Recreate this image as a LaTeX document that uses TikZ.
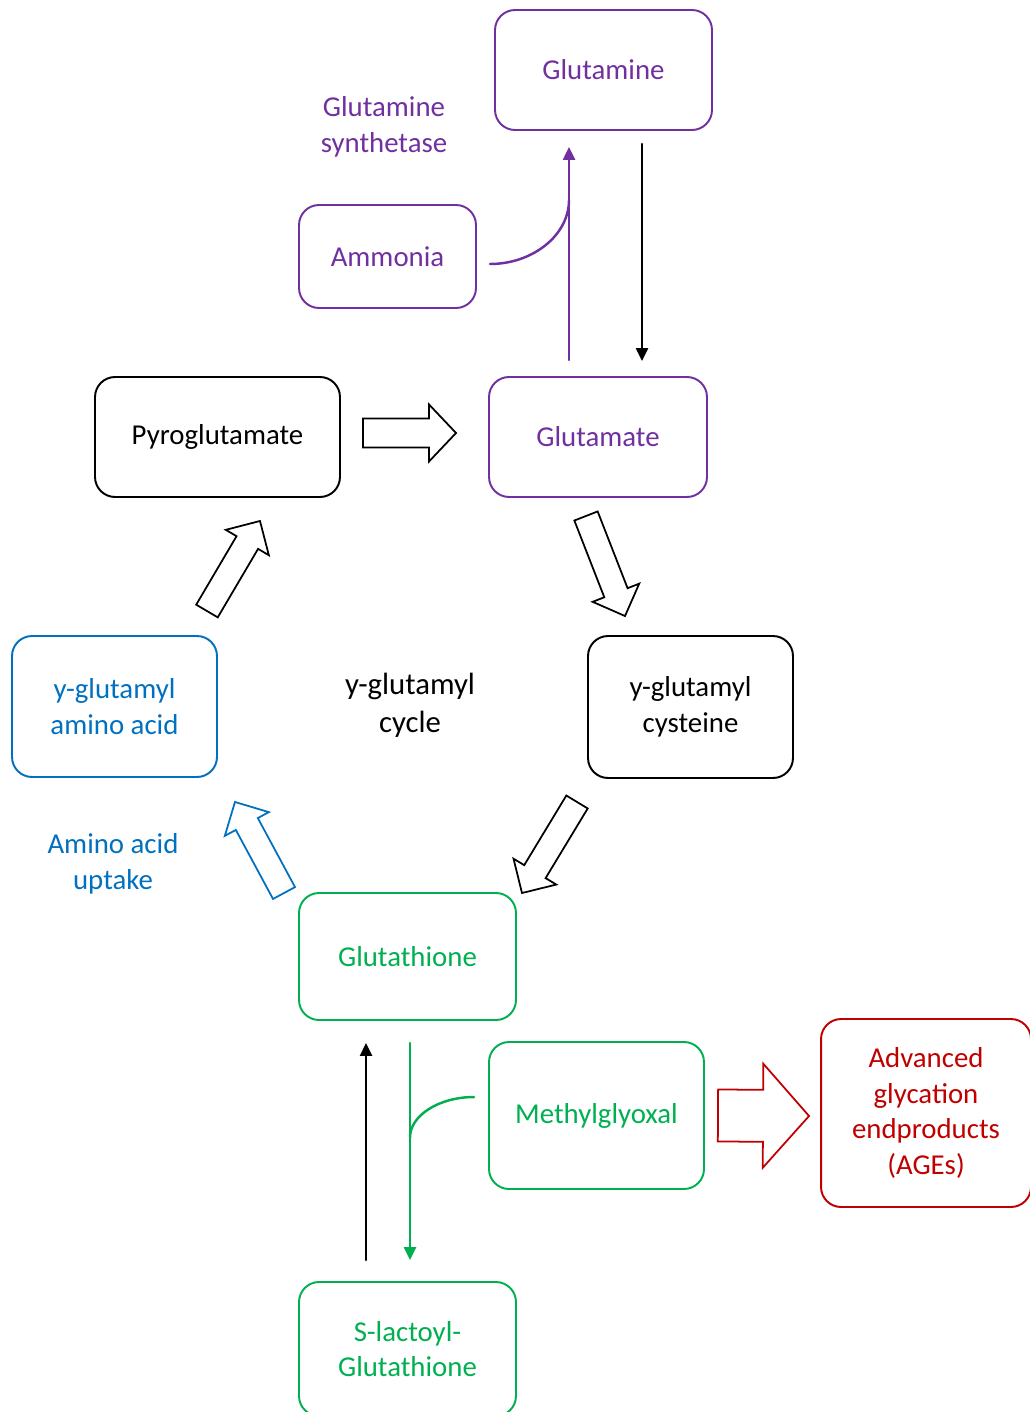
\documentclass[tikz,border=0pt]{standalone}
\usepackage{fontspec}
\setmainfont{Carlito}
\usetikzlibrary{arrows.meta,calc}

\definecolor{cpurple}{HTML}{7030A0}
\definecolor{cblue}{HTML}{0070C0}
\definecolor{cgreen}{HTML}{00B050}
\definecolor{cred}{HTML}{C00000}

\tikzset{
    box/.style={draw, rounded corners=0.4cm, line width=1.1pt, inner sep=0pt, outer sep=0pt, align=center},
    lbl/.style={align=center},
    thinarrow/.style={line width=1.4pt, -{Triangle[length=0.26cm,width=0.24cm]}},
    fat/.style={line width=1pt, line join=miter},
}

% hollow block arrow: [style]{tail}{tip}{shaft half width}{head half width}{head length}
\newcommand{\fatarrow}[6][]{%
    \coordinate (neck) at ($(#3)!#6!(#2)$);
    \draw[#1] ($(#2)!#4!90:(#3)$) -- ($(neck)!#4!90:(#3)$) -- ($(neck)!#5!90:(#3)$)
        -- (#3) -- ($(neck)!#5!-90:(#3)$) -- ($(neck)!#4!-90:(#3)$) -- ($(#2)!#4!-90:(#3)$) -- cycle;}

\begin{document}
\begin{tikzpicture}[x=0.02cm, y=-0.02cm, font=\fontsize{16.4}{20.3}\selectfont, line cap=round]
    \useasboundingbox (0,0) rectangle (1029,1412);
    % boxes
    \node[box, cpurple, minimum width=4.34cm, minimum height=2.4cm] (gln) at (603.5,70) {Glutamine};
    \node[box, cpurple, minimum width=3.54cm, minimum height=2.06cm] (amm) at (387.5,256.5) {Ammonia};
    \node[lbl, text=cpurple] (gs) at (384,127) {Glutamine\\synthetase};
    \node[box, minimum width=4.9cm, minimum height=2.4cm] (pyro) at (217.5,437) {Pyroglutamate};
    \node[box, cpurple, minimum width=4.36cm, minimum height=2.4cm] (glu) at (598,437) {Glutamate};
    \node[box, cblue, minimum width=4.1cm, minimum height=2.82cm] (gaa) at (114.5,706.5) {y-glutamyl\\amino acid};
    \node[lbl, font=\fontsize{17.5}{21.5}\selectfont] (cycle) at (410,705) {y-glutamyl\\cycle};
    \node[box, minimum width=4.1cm, minimum height=2.84cm] (gcys) at (690.5,707) {y-glutamyl\\cysteine};
    \node[lbl, text=cblue] (uptake) at (113,864) {Amino acid\\uptake};
    \node[box, cgreen, minimum width=4.34cm, minimum height=2.54cm] (gsh) at (407.5,956.5) {Glutathione};
    \node[box, cgreen, minimum width=4.3cm, minimum height=2.94cm] (mg) at (596.5,1115.5) {Methylglyoxal};
    \node[box, cred, minimum width=4.2cm, minimum height=3.76cm] (ages) at (926,1113) {Advanced\\glycation\\endproducts\\(AGEs)};
    \node[box, cgreen, minimum width=4.34cm, minimum height=2.68cm] (slg) at (407.5,1349) {S-lactoyl-\\Glutathione};

    % glutamate <-> glutamine
    \coordinate (gs-bot) at ([xshift=-0.58cm]glu.north);
    \coordinate (amm-in) at ($(gs-bot |- amm.north)+(0,-5)$);
    \coordinate (gln-out) at ([xshift=0.88cm]glu.north);
    \draw[thinarrow, cpurple, shorten <=0.34cm, shorten >=0.34cm] (gs-bot) -- (gs-bot |- gln.south);
    \draw[cpurple, line width=1.4pt] ([xshift=0.28cm,yshift=-0.15cm]amm.east) .. controls +(43,0) and +(0,35) .. (amm-in);
    \draw[thinarrow, shorten <=0.28cm, shorten >=0.32cm] (gln-out |- gln.south) -- (gln-out);

    % glutathione <-> S-lactoyl-glutathione
    \coordinate (slg-top) at ([xshift=-0.83cm]slg.north);
    \coordinate (gsh-out) at ([xshift=0.05cm]gsh.south);
    \coordinate (mg-in) at ($(gsh-out |- mg.west)+(0,22)$);
    \draw[thinarrow, shorten <=0.44cm, shorten >=0.46cm] (slg-top) -- (slg-top |- gsh.south);
    \draw[thinarrow, cgreen, shorten <=0.46cm, shorten >=0.44cm] (gsh-out) -- (gsh-out |- slg.north);
    \draw[cgreen, line width=1.4pt] ([xshift=-0.3cm,yshift=0.37cm]mg.west) .. controls +(-35,0) and +(0,-22) .. (mg-in);

    % block arrows of the cycle
    \coordinate (pyro-out) at ([xshift=0.46cm,yshift=0.08cm]pyro.east);
    \coordinate (glu-in) at ([xshift=-0.66cm,yshift=0.08cm]glu.west);
    \coordinate (glu-out) at ([xshift=-0.24cm,yshift=-0.38cm]glu.south);
    \coordinate (gcys-in) at ([xshift=-1.31cm,yshift=0.4cm]gcys.north);
    \coordinate (gcys-out) at ([xshift=-0.22cm,yshift=-0.48cm]gcys.south west);
    \coordinate (gsh-in) at ([xshift=0.12cm]gsh.north east);
    \coordinate (gsh-up) at ([xshift=-0.3cm]gsh.north west);
    \coordinate (gaa-in) at ([xshift=0.36cm,yshift=-0.5cm]gaa.south east);
    \coordinate (gaa-out) at ([xshift=1.85cm,yshift=0.5cm]gaa.north);
    \coordinate (pyro-in) at ([xshift=0.85cm,yshift=-0.48cm]pyro.south);
    \coordinate (mg-out) at ([xshift=0.28cm]mg.east);
    \coordinate (ages-in) at ([xshift=-0.24cm,yshift=-0.06cm]ages.west);
    \fatarrow[fat]{pyro-out}{glu-in}{0.29cm}{0.57cm}{0.54cm}
    \fatarrow[fat]{glu-out}{gcys-in}{0.25cm}{0.5cm}{0.5cm}
    \fatarrow[fat]{gcys-out}{gsh-in}{0.25cm}{0.5cm}{0.5cm}
    \fatarrow[fat, cblue]{gsh-up}{gaa-in}{0.25cm}{0.5cm}{0.5cm}
    \fatarrow[fat]{gaa-out}{pyro-in}{0.25cm}{0.5cm}{0.5cm}
    \fatarrow[fat, cred]{mg-out}{ages-in}{0.52cm}{1.04cm}{0.92cm}
\end{tikzpicture}
\end{document}
